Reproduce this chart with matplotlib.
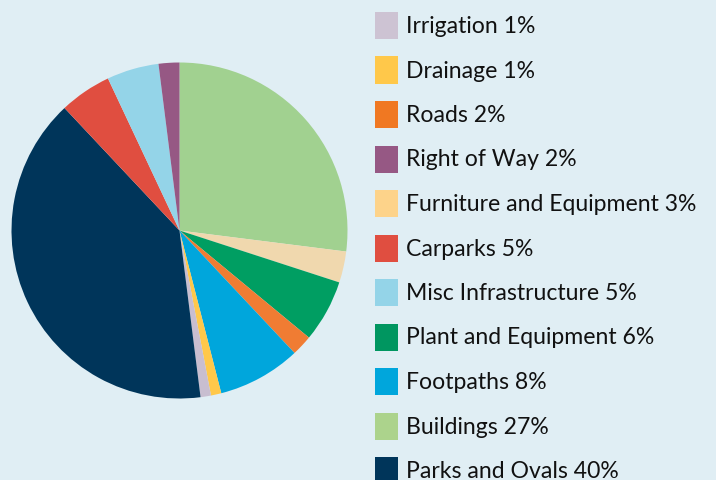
import matplotlib.pyplot as plt
from matplotlib.patches import Rectangle

# slices in drawing order, clockwise from 12 o'clock
slice_labels = [
    "Buildings", "Furniture and Equipment", "Plant and Equipment", "Roads",
    "Footpaths", "Drainage", "Irrigation", "Parks and Ovals", "Carparks",
    "Misc Infrastructure", "Right of Way",
]
slice_values = [27, 3, 6, 2, 8, 1, 1, 40, 5, 5, 2]
slice_colors = [
    "#a1d190", "#f0d8ae", "#009e62", "#f07c33", "#00a6dc", "#ffc84a",
    "#c8bed0", "#00355a", "#e04e40", "#94d4e8", "#965884",
]

# legend order (ascending by share) and its swatch colours
legend_order = [
    "Irrigation", "Drainage", "Roads", "Right of Way", "Furniture and Equipment",
    "Carparks", "Misc Infrastructure", "Plant and Equipment", "Footpaths",
    "Buildings", "Parks and Ovals",
]
legend_colors = [
    "#cdc3d3", "#ffc84a", "#f07822", "#965884", "#fdd38a",
    "#e04e40", "#94d4e8", "#009660", "#00a6dc", "#acd38c", "#00355a",
]

BG = "#e0eef4"
W, H = 716, 480

fig = plt.figure(figsize=(W / 100, H / 100), dpi=100, facecolor=BG)

cx, cy, r = 179.5, 230.5, 168
ax = fig.add_axes([(cx - r) / W, (H - cy - r) / H, 2 * r / W, 2 * r / H])
ax.set_facecolor(BG)
ax.pie(
    slice_values,
    colors=slice_colors,
    startangle=90,
    counterclock=False,
    radius=1,
    wedgeprops={"linewidth": 0},
)
ax.set_xlim(-1, 1)
ax.set_ylim(-1, 1)
ax.set_aspect("equal")
ax.axis("off")

values_by_label = dict(zip(slice_labels, slice_values))

sw_x, sw_w, sw_h = 375, 23, 27
top_y, step = 12, 44.5
for i, (label, color) in enumerate(zip(legend_order, legend_colors)):
    y0 = top_y + i * step
    fig.add_artist(Rectangle(
        (sw_x / W, 1 - (y0 + sw_h) / H), sw_w / W, sw_h / H,
        transform=fig.transFigure, facecolor=color, linewidth=0,
    ))
    fig.text(
        406 / W, 1 - (y0 + sw_h / 2 + 1) / H,
        f"{label} {values_by_label[label]}%",
        fontsize=16.6, family="Lato", color="#111111", va="center", ha="left",
    )

fig.savefig("out.png", dpi=100, facecolor=BG)
